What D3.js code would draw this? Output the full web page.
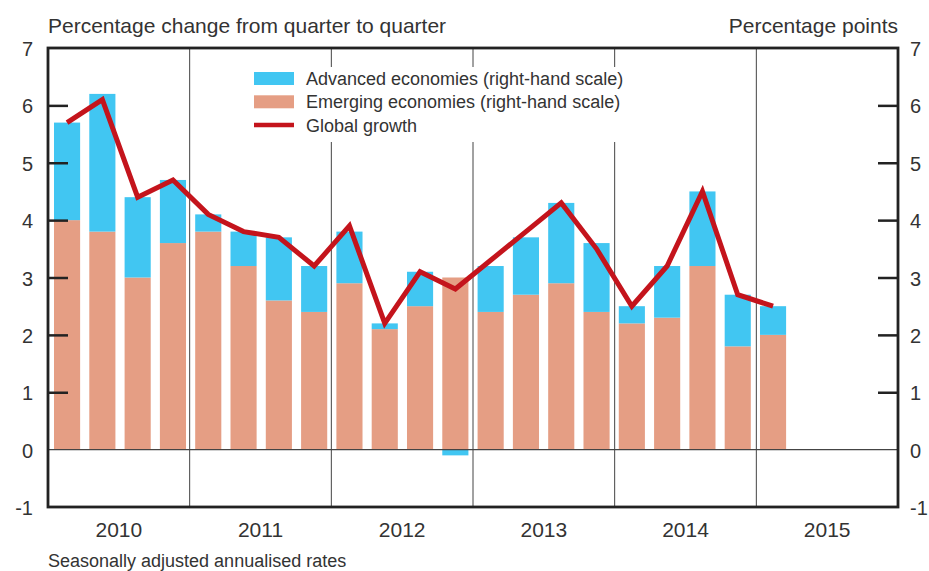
<!DOCTYPE html>
<html>
<head>
<meta charset="utf-8">
<style>
body { margin: 0; background: #fff; }
svg text { font-family: 'Liberation Sans', Arial, sans-serif; fill: #333; }
.axisL text, .axisR text { font-size: 20px; }
.axisX text { font-size: 21px; }
</style>
</head>
<body>
<div id="chart"></div>
<script src="https://cdn.jsdelivr.net/npm/d3@7"></script>
<script>

const quarters = ['2010Q1','2010Q2','2010Q3','2010Q4','2011Q1','2011Q2','2011Q3','2011Q4',
                  '2012Q1','2012Q2','2012Q3','2012Q4','2013Q1','2013Q2','2013Q3','2013Q4',
                  '2014Q1','2014Q2','2014Q3','2014Q4','2015Q1','2015Q2','2015Q3','2015Q4'];
const years = ['2010','2011','2012','2013','2014','2015'];
const yTicks = [-1, 0, 1, 2, 3, 4, 5, 6, 7];

// percentage points, 2010Q1 - 2015Q1
const emerging = [4.0, 3.8, 3.0, 3.6, 3.8, 3.2, 2.6, 2.4, 2.9, 2.1, 2.5, 3.0,
                  2.4, 2.7, 2.9, 2.4, 2.2, 2.3, 3.2, 1.8, 2.0];
const advanced = [1.7, 2.4, 1.4, 1.1, 0.3, 0.6, 1.1, 0.8, 0.9, 0.1, 0.6, -0.1,
                  0.8, 1.0, 1.4, 1.2, 0.3, 0.9, 1.3, 0.9, 0.5];
// global growth, % q/q annualised
const globalGrowth = [5.7, 6.1, 4.4, 4.7, 4.1, 3.8, 3.7, 3.2, 3.9, 2.2, 3.1, 2.8,
                      3.3, 3.8, 4.3, 3.5, 2.5, 3.2, 4.5, 2.7, 2.5];

const W = 929, H = 571;
const mLeft = 48, mRight = 898, mTop = 48, mBottom = 507;

const svg = d3.select('#chart').append('svg')
    .attr('width', W)
    .attr('height', H);

const x = d3.scaleBand()
    .domain(quarters)
    .range([mLeft, mRight])
    .paddingInner(0.26)
    .paddingOuter(0.17);

const xYear = d3.scaleBand()
    .domain(years)
    .range([mLeft, mRight]);

const y = d3.scaleLinear()
    .domain([-1, 7])
    .range([mBottom, mTop]);

const blue = '#41c6f2', orange = '#e59e84', red = '#c4141c';

// bars
const bars = svg.append('g');
emerging.forEach(function(e, i) {
    const q = quarters[i], a = advanced[i];
    bars.append('rect')
        .attr('x', x(q)).attr('width', x.bandwidth())
        .attr('y', y(e)).attr('height', y(0) - y(e))
        .attr('fill', orange);
    const a0 = a >= 0 ? e : 0, a1 = a >= 0 ? e + a : a;
    bars.append('rect')
        .attr('x', x(q)).attr('width', x.bandwidth())
        .attr('y', y(Math.max(a0, a1))).attr('height', Math.abs(y(a0) - y(a1)))
        .attr('fill', blue);
});

// year dividers
svg.append('g').selectAll('line')
    .data(years.slice(1))
    .join('line')
        .attr('x1', d => xYear(d)).attr('x2', d => xYear(d))
        .attr('y1', mTop).attr('y2', mBottom)
        .attr('stroke', '#444').attr('stroke-width', 1);

// zero line
svg.append('line')
    .attr('x1', mLeft).attr('x2', mRight)
    .attr('y1', y(0)).attr('y2', y(0))
    .attr('stroke', '#444').attr('stroke-width', 1.2);

// axes
function customY(g) {
    g.select('.domain').remove();
    g.selectAll('.tick line').attr('stroke', '#222').attr('stroke-width', 2.5);
    g.selectAll('.tick').filter(d => d === 0 || d === -1 || d === 7).select('line').remove();
    g.selectAll('.tick text').attr('fill', '#333');
}

const fmt = d => String(d);   // plain hyphen for -1, as in the original

svg.append('g')
    .attr('class', 'axisL')
    .attr('transform', 'translate(' + mLeft + ',0)')
    .call(d3.axisRight(y).tickValues(yTicks).tickSize(20).tickFormat(fmt))
    .call(customY)
    .call(g => g.selectAll('.tick text').attr('x', -15).attr('text-anchor', 'end').attr('dy', '0.38em'));

svg.append('g')
    .attr('class', 'axisR')
    .attr('transform', 'translate(' + mRight + ',0)')
    .call(d3.axisLeft(y).tickValues(yTicks).tickSize(20).tickFormat(fmt))
    .call(customY)
    .call(g => g.selectAll('.tick text').attr('x', 12).attr('text-anchor', 'start').attr('dy', '0.38em'));

svg.append('g')
    .attr('class', 'axisX')
    .attr('transform', 'translate(0,' + mBottom + ')')
    .call(d3.axisBottom(xYear).tickSize(0).tickPadding(10))
    .call(g => g.select('.domain').remove())
    .call(g => g.selectAll('.tick text').attr('fill', '#333').attr('dy', '0.95em'));

// frame
svg.append('rect')
    .attr('x', mLeft).attr('y', mTop)
    .attr('width', mRight - mLeft).attr('height', mBottom - mTop)
    .attr('fill', 'none').attr('stroke', '#222').attr('stroke-width', 2.8);

// legend
const legend = svg.append('g');
legend.append('rect')
    .attr('x', 248).attr('y', 67).attr('width', 400).attr('height', 75)
    .attr('fill', '#fff');
const legendItems = [
    {label: 'Advanced economies (right-hand scale)', color: blue, type: 'box'},
    {label: 'Emerging economies (right-hand scale)', color: orange, type: 'box'},
    {label: 'Global growth', color: red, type: 'line'}
];
legendItems.forEach(function(d, i) {
    const cy = 78.5 + i * 23.3;
    if (d.type === 'box') {
        legend.append('rect')
            .attr('x', 254).attr('y', cy - 6.5).attr('width', 40).attr('height', 13)
            .attr('fill', d.color);
    } else {
        legend.append('line')
            .attr('x1', 254).attr('x2', 294).attr('y1', cy).attr('y2', cy)
            .attr('stroke', d.color).attr('stroke-width', 4.5);
    }
    legend.append('text')
        .attr('x', 306).attr('y', cy + 6.5)
        .attr('font-size', 18)
        .text(d.label);
});

// global growth line
const line = d3.line()
    .x((d, i) => x(quarters[i]) + x.bandwidth() / 2)
    .y(d => y(d));

svg.append('path')
    .datum(globalGrowth)
    .attr('d', line)
    .attr('fill', 'none')
    .attr('stroke', red)
    .attr('stroke-width', 5)
    .attr('stroke-linejoin', 'miter');

// titles
svg.append('text')
    .attr('x', mLeft).attr('y', 33)
    .attr('font-size', 21)
    .text('Percentage change from quarter to quarter');

svg.append('text')
    .attr('x', mRight).attr('y', 33)
    .attr('font-size', 21)
    .attr('text-anchor', 'end')
    .text('Percentage points');

svg.append('text')
    .attr('x', mLeft).attr('y', 567)
    .attr('font-size', 18)
    .text('Seasonally adjusted annualised rates');

</script>
</body>
</html>
